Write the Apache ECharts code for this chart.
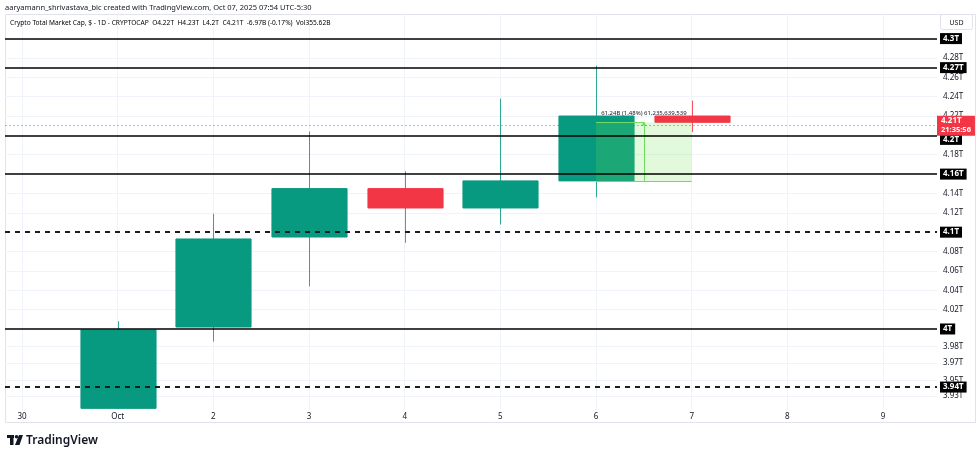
<!DOCTYPE html>
<html>
<head>
<meta charset="utf-8">
<script src="https://cdn.jsdelivr.net/npm/echarts@6/dist/echarts.min.js"></script>
<style>
html,body{margin:0;padding:0;background:#fff;}
#chart{width:980px;height:456px;}
</style>
</head>
<body>
<div id="chart"></div>
<script>
// ---- data ----
const dayLabels = ['30', 'Oct', '2', '3', '4', '5', '6', '7', '8', '9'];
const dayIndex = [0, 1, 2, 3, 4, 5, 6, 7, 8, 9];
const candleDays = [1, 2, 3, 4, 5, 6, 7];
const opens  = [3.918, 4.002, 4.095, 4.145, 4.125, 4.153, 4.220];
const closes = [3.999, 4.093, 4.145, 4.125, 4.153, 4.220, 4.2135];
const lows   = [3.918, 3.987, 4.044, 4.089, 4.108, 4.136, 4.2035];
const highs  = [4.008, 4.119, 4.204, 4.163, 4.238, 4.272, 4.236];

const yTickValues = [4.28, 4.26, 4.24, 4.22, 4.18, 4.14, 4.12, 4.08, 4.06, 4.04, 4.02, 3.982, 3.965, 3.947, 3.931];
const yTickLabels = ['4.28T', '4.26T', '4.24T', '4.22T', '4.18T', '4.14T', '4.12T', '4.08T', '4.06T', '4.04T', '4.02T', '3.98T', '3.97T', '3.95T', '3.93T'];

const levelValues = [4.2996, 4.2727, 4.2004, 4.1619, 4.103, 4.0, 3.935];
const levelLabels = ['4.3T', '4.27T', '4.2T', '4.16T', '4.1T', '4T', '3.94T'];

const lastPrice = 4.2135;
const lastPriceLabel = '4.21T';
const countdown = '21:35:56';

const projFrom = 6, projTo = 7;
const projLow = 4.153, projHigh = 4.2135;
const projText = '61.24B (1.48%) 61,235,639,539';

const headerLine1 = 'aaryamann_shrivastava_bic created with TradingView.com, Oct 07, 2025 07:54 UTC-5:30';
const symbolText = 'Crypto Total Market Cap, $ - 1D - CRYPTOCAP';
const ohlcText = [['O', '4.22T'], ['H', '4.23T'], ['L', '4.2T'], ['C', '4.21T'], ['', '-6.97B (-0.17%)'], ['Vol', '355.62B']];

// ---- chart ----
const UP = '#089981', DOWN = '#f23645', TXT = '#131722', GRID = '#f0f3fa';
const FONT = '"Noto Sans", "DejaVu Sans", sans-serif';

const candleData = candleDays.map((d, i) => [d, opens[i], closes[i], lows[i], highs[i]]);

function renderCandle(params, api) {
  const x = api.value(0), o = api.value(1), c = api.value(2), l = api.value(3), h = api.value(4);
  const pO = api.coord([x, o]), pC = api.coord([x, c]), pL = api.coord([x, l]), pH = api.coord([x, h]);
  const w = api.size([1, 0])[0] * 0.785;
  const col = c >= o ? UP : DOWN;
  const xc = Math.round(pO[0]) + 0.5;
  const top = Math.min(pO[1], pC[1]);
  return {
    type: 'group',
    children: [
      { type: 'line', shape: { x1: xc, y1: pH[1], x2: xc, y2: pL[1] }, style: { stroke: col, lineWidth: 1, opacity: 0.85 } },
      { type: 'rect', shape: { x: xc - w / 2, y: top, width: w, height: Math.max(1, Math.abs(pO[1] - pC[1])) },
        style: { fill: col, stroke: col, lineWidth: 1 } }
    ]
  };
}

const levelLines = levelValues.map((v, i) => {
  const dashed = levelLabels[i] === '4.1T' || levelLabels[i] === '3.94T';
  const nearLast = Math.abs(v - lastPrice) < 0.02;
  return {
    yAxis: v,
    lineStyle: dashed ? { color: '#1e1e1e', width: 2, type: [5, 5] } : { color: '#000', width: 1.5, type: 'solid' },
    label: {
      show: true, position: 'end', distance: 3, formatter: levelLabels[i],
      offset: nearLast ? [0, 4] : [0, 0],
      backgroundColor: '#000', color: '#fff', fontSize: 8, fontWeight: 'bold', fontFamily: FONT,
      padding: [2, 3, 1, 3]
    }
  };
});

const richStyles = {
  k: { color: TXT, fontSize: 6.6, fontFamily: FONT },
  v: { color: DOWN, fontSize: 6.6, fontFamily: FONT }
};
let line2 = '{k|' + symbolText + '  }';
ohlcText.forEach(([k, v]) => { line2 += (k ? '{k|' + k + '}' : '') + '{v|' + v + '}{k|  }'; });

const chart = echarts.init(document.getElementById('chart'), null, { renderer: 'canvas' });
chart.setOption({
  animation: false,
  backgroundColor: '#fff',
  textStyle: { fontFamily: FONT },
  grid: { left: 5, right: 43, top: 14, bottom: 46, containLabel: false },
  xAxis: {
    type: 'value',
    min: -0.1777, max: 9.564,
    axisLine: { show: false },
    axisTick: { show: false, customValues: dayIndex },
    axisLabel: {
      customValues: dayIndex, margin: 3, fontSize: 8, color: TXT, fontFamily: FONT,
      formatter: v => dayLabels[Math.round(v)] || ''
    },
    splitLine: { show: true, lineStyle: { color: GRID, width: 1 } }
  },
  yAxis: {
    type: 'value', position: 'right',
    min: 3.9163, max: 4.3254,
    axisLine: { show: false },
    axisTick: { show: false, customValues: yTickValues },
    axisLabel: {
      customValues: yTickValues, margin: 6, fontSize: 8, color: TXT, fontFamily: FONT,
      formatter: v => { const i = yTickValues.findIndex(t => Math.abs(t - v) < 1e-6); return i >= 0 ? yTickLabels[i] : ''; }
    },
    splitLine: { show: true, lineStyle: { color: GRID, width: 1 } }
  },
  graphic: [
    { type: 'rect', z: -10, silent: true, shape: { x: 5.5, y: 14.5, width: 970, height: 408 }, style: { fill: 'none', stroke: '#e0e3eb', lineWidth: 1 } },
    { type: 'rect', z: 10, shape: { x: 940.5, y: 14.5, width: 32, height: 15, r: 2 }, style: { fill: '#fff', stroke: '#e0e3eb', lineWidth: 1 } },
    { type: 'text', z: 11, style: { x: 956.5, y: 22.5, text: 'USD', fill: TXT, fontSize: 7, fontFamily: FONT, align: 'center', verticalAlign: 'middle' } },
    { type: 'text', z: 11, style: { x: 5, y: 7.5, text: headerLine1, fill: TXT, fontSize: 7.5, fontFamily: FONT, verticalAlign: 'middle' } },
    { type: 'text', z: 11, style: { x: 10, y: 23, text: line2, rich: richStyles, verticalAlign: 'middle' } },
    // TradingView logo
    { type: 'rect', shape: { x: 7, y: 435, width: 7, height: 3 }, style: { fill: TXT } },
    { type: 'rect', shape: { x: 10, y: 435, width: 3.5, height: 10 }, style: { fill: TXT } },
    { type: 'circle', shape: { cx: 16.5, cy: 436.8, r: 1.8 }, style: { fill: TXT } },
    { type: 'polygon', shape: { points: [[19, 435], [23, 435], [19.5, 445], [15, 445]] }, style: { fill: TXT } },
    { type: 'text', style: { x: 26, y: 440.5, text: 'TradingView', fill: TXT, fontSize: 12, fontWeight: 600, fontFamily: FONT, verticalAlign: 'middle' } }
  ],
  series: [
    {
      type: 'custom', name: 'candles', z: 2,
      renderItem: renderCandle,
      encode: { x: 0, y: [1, 2, 3, 4] },
      data: candleData
    },
    {
      type: 'line', name: 'levels', data: [], z: 5, silent: true,
      markLine: { silent: true, z: 5, symbol: ['none', 'none'], animation: false, data: levelLines }
    },
    {
      type: 'line', name: 'projection', data: [], z: 4, silent: true,
      markArea: {
        silent: true, z: 4,
        itemStyle: { color: 'rgba(112,226,78,0.2)' },
        label: { show: true, position: 'top', distance: 6, formatter: projText, color: TXT, fontSize: 6, fontFamily: FONT },
        data: [[{ xAxis: projFrom, yAxis: projLow }, { xAxis: projTo, yAxis: projHigh }]]
      },
      markLine: {
        silent: true, z: 4, symbol: ['none', 'none'], animation: false,
        lineStyle: { color: '#70dd5f', width: 1, type: 'solid' },
        label: { show: false },
        data: [
          [{ coord: [projFrom, projLow] }, { coord: [projTo, projLow] }],
          [{ coord: [projFrom, projHigh] }, { coord: [(projFrom + projTo) / 2, projHigh] }],
          [{ coord: [(projFrom + projTo) / 2, projLow], symbol: 'none' }, { coord: [(projFrom + projTo) / 2, projHigh], symbol: 'arrow', symbolSize: [5, 4] }]
        ]
      }
    },
    {
      type: 'line', name: 'last', data: [], z: 6, silent: true,
      markLine: {
        silent: true, z: 6, symbol: ['none', 'none'], animation: false,
        data: [{
          yAxis: lastPrice,
          lineStyle: { color: 'rgba(242,54,69,0.5)', width: 1, type: [2, 2] },
          label: {
            show: true, position: 'end', distance: 0,
            formatter: lastPriceLabel + '\n{t|' + countdown + '}',
            backgroundColor: DOWN, color: '#fff', fontSize: 8, fontWeight: 'bold', fontFamily: FONT,
            lineHeight: 9, padding: [1, 4, 1, 4], align: 'left',
            rich: { t: { color: '#fff', fontSize: 7.5, lineHeight: 9, fontFamily: FONT } }
          }
        }]
      }
    }
  ]
});
</script>
</body>
</html>
